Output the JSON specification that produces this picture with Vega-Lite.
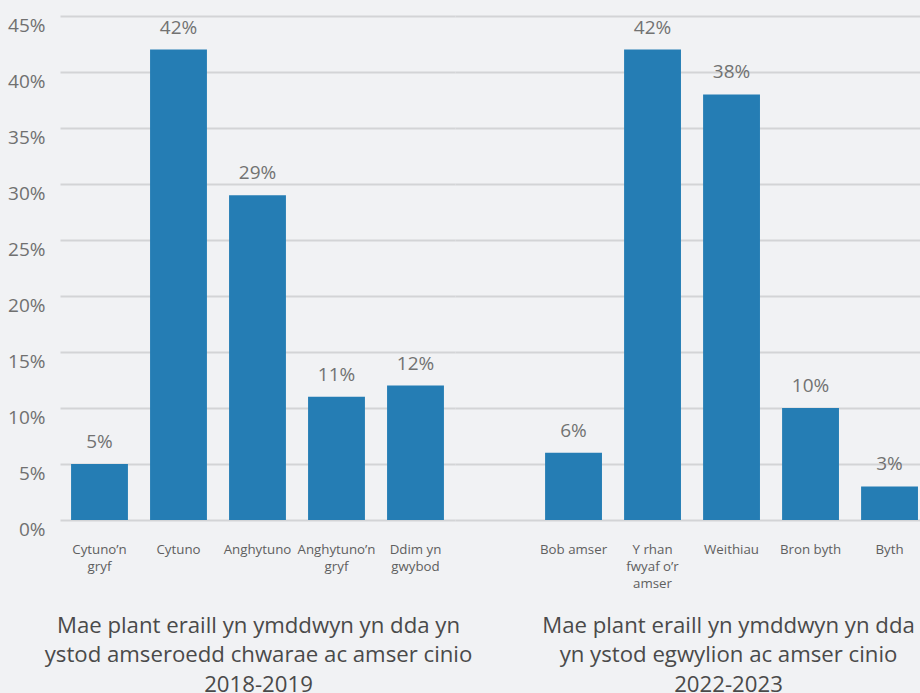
{
  "$schema": "https://vega.github.io/schema/vega-lite/v6.json",
  "background": "#f1f2f4",
  "padding": {"left": 5, "top": 16, "right": 0, "bottom": 0},
  "bounds": "flush",
  "config": {
    "view": {"stroke": null},
    "font": "Open Sans",
    "concat": {"spacing": 0},
    "axisX": {
      "labelAngle": 0,
      "labelFontSize": 13.3,
      "labelColor": "#5f5f5f",
      "labelPadding": 22,
      "labelLineHeight": 17,
      "labelExpr": "split(datum.value, '\\n')",
      "ticks": false,
      "domain": false,
      "grid": false,
      "titleFontSize": 22.2,
      "titleFontWeight": "normal",
      "titleColor": "#4a4a4a",
      "titleLineHeight": 29.5,
      "titlePadding": 34,
      "minExtent": 60,
      "maxExtent": 60
    },
    "axisY": {
      "grid": true,
      "gridColor": "#d3d4d6",
      "gridWidth": 2,
      "domain": false,
      "ticks": false,
      "title": null,
      "values": [0, 0.05, 0.1, 0.15, 0.2, 0.25, 0.3, 0.35, 0.4, 0.45],
      "format": ".0%",
      "labelFontSize": 19,
      "labelColor": "#707070",
      "labelBaseline": "top",
      "labelPadding": 15
    }
  },
  "datasets": {
    "g1": [
      {"category": "Cytuno’n\ngryf", "share": 0.05},
      {"category": "Cytuno", "share": 0.42},
      {"category": "Anghytuno", "share": 0.29},
      {"category": "Anghytuno’n\ngryf", "share": 0.11},
      {"category": "Ddim yn\ngwybod", "share": 0.12}
    ],
    "g2": [
      {"category": "Bob amser", "share": 0.06},
      {"category": "Y rhan\nfwyaf o’r\namser", "share": 0.42},
      {"category": "Weithiau", "share": 0.38},
      {"category": "Bron byth", "share": 0.10},
      {"category": "Byth", "share": 0.03}
    ]
  },
  "hconcat": [
    {
      "width": 395,
      "height": 504,
      "data": {"name": "g1"},
      "encoding": {
        "x": {
          "field": "category",
          "type": "nominal",
          "sort": null,
          "scale": {"paddingInner": 0.28, "paddingOuter": 0.14},
          "axis": {
            "title": ["Mae plant eraill yn ymddwyn yn dda yn", "ystod amseroedd chwarae ac amser cinio", "2018-2019"],
            "titleX": 198
          }
        },
        "y": {
          "field": "share",
          "type": "quantitative",
          "scale": {"domain": [0, 0.45], "nice": false},
          "axis": {"minExtent": 55, "maxExtent": 55}
        }
      },
      "layer": [
        {"mark": {"type": "bar", "color": "#257db4"}},
        {
          "mark": {"type": "text", "baseline": "alphabetic", "dy": -16, "fontSize": 19, "color": "#727272"},
          "encoding": {"text": {"field": "share", "type": "quantitative", "format": ".0%"}}
        }
      ]
    },
    {
      "width": 465,
      "height": 504,
      "data": {"name": "g2"},
      "encoding": {
        "x": {
          "field": "category",
          "type": "nominal",
          "sort": null,
          "scale": {"paddingInner": 0.28, "paddingOuter": 0.583, "align": 0.978},
          "axis": {
            "title": ["Mae plant eraill yn ymddwyn yn dda", "yn ystod egwylion ac amser cinio", "2022-2023"],
            "titleX": 273
          }
        },
        "y": {
          "field": "share",
          "type": "quantitative",
          "scale": {"domain": [0, 0.45], "nice": false},
          "axis": {"labels": false, "minExtent": 0, "maxExtent": 0}
        }
      },
      "layer": [
        {"mark": {"type": "bar", "color": "#257db4"}},
        {
          "mark": {"type": "text", "baseline": "alphabetic", "dy": -16, "fontSize": 19, "color": "#727272"},
          "encoding": {"text": {"field": "share", "type": "quantitative", "format": ".0%"}}
        }
      ]
    }
  ]
}
